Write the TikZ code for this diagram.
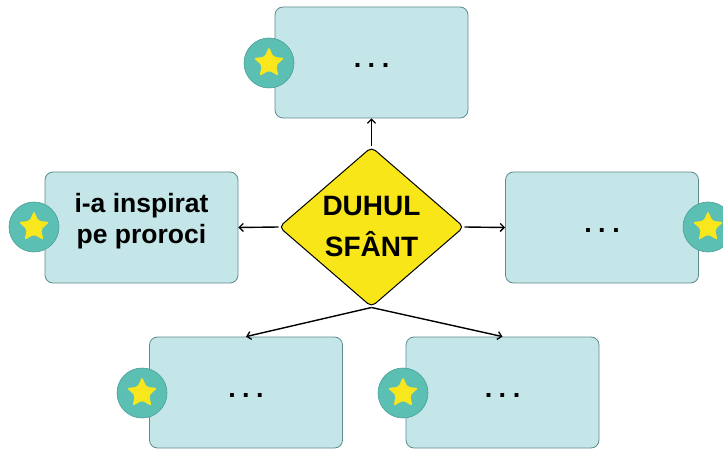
\documentclass[tikz,border=0pt]{standalone}
\usepackage{fontspec}
\setmainfont{Liberation Sans}
\usetikzlibrary{shapes.geometric,arrows.meta}
\definecolor{boxfill}{HTML}{C4E6E9}
\definecolor{boxline}{HTML}{5E8C8E}
\definecolor{badgefill}{HTML}{5CBFB4}
\definecolor{badgeline}{HTML}{4A9E96}
\definecolor{staryellow}{HTML}{F8E71C}
\definecolor{diamondfill}{HTML}{F9E619}
\newcommand{\tridots}{.\hspace{6.5pt}.\hspace{6.5pt}.}
\begin{document}
\begin{tikzpicture}[x=1pt,y=-1pt,
  card/.style={draw=boxline, fill=boxfill, line width=0.8pt, rounded corners=8pt,
    minimum width=193pt, minimum height=111pt, inner sep=0pt},
  badge/.style={circle, draw=badgeline, fill=badgefill, line width=0.6pt,
    minimum size=50pt, inner sep=0pt},
  staricon/.style={star, star points=5, star point ratio=2.1, fill=staryellow,
    minimum size=32pt, inner sep=0pt, rounded corners=2pt},
  conn/.style={-{Straight Barb[length=4pt,width=8pt,line width=1.3pt]}, line width=1.4pt},
  bigtext/.style={font=\bfseries\fontsize{26.5pt}{31pt}\selectfont},
  dots/.style={font=\bfseries\fontsize{27pt}{31pt}\selectfont, inner sep=0pt, yshift=-3pt}
]
\useasboundingbox (0,0) rectangle (723,449);
\clip (0,0) rectangle (723,449);
\fill[white] (0,0) rectangle (723,449);

\node[card] (top) at (371.5,62.5) {};
\node[card] (left) at (141.5,227.5) {};
\node[card] (right) at (602,227.5) {};
\node[card] (bl) at (246,392.5) {};
\node[card] (br) at (502.5,392.5) {};

\node[dots] (topdots) at (top) {\tridots};
\node[dots] (rightdots) at (right) {\tridots};
\node[dots] (bldots) at (bl) {\tridots};
\node[dots] (brdots) at (br) {\tridots};
\node[bigtext, align=center] (lefttext) at (141.5,221) {i-a inspirat\\pe proroci};

\node[badge] (b1) at (269,63) {};
\node[staricon] (s1) at (b1) {};
\node[badge] (b2) at (34,227) {};
\node[staricon] (s2) at (b2) {};
\node[badge] (b3) at (708,227) {};
\node[staricon] (s3) at (b3) {};
\node[badge] (b4) at (142,393) {};
\node[staricon] (s4) at (b4) {};
\node[badge] (b5) at (403,393) {};
\node[staricon] (s5) at (b5) {};

\node[diamond, draw=black, line width=1pt, fill=diamondfill, minimum width=185pt,
  minimum height=160pt, inner sep=0pt, rounded corners=5pt, align=center,
  font=\bfseries\fontsize{28pt}{41pt}\selectfont] (hs) at (371.5,227) {DUHUL\\SFÂNT};

\draw[conn] (hs.north) -- (top.south);
\draw[conn] (hs.west) -- (left.east);
\draw[conn] (hs.east) -- (right.west);
\draw[conn] (hs.south) -- (bl.north);
\draw[conn] (hs.south) -- (br.north);
\end{tikzpicture}
\end{document}
